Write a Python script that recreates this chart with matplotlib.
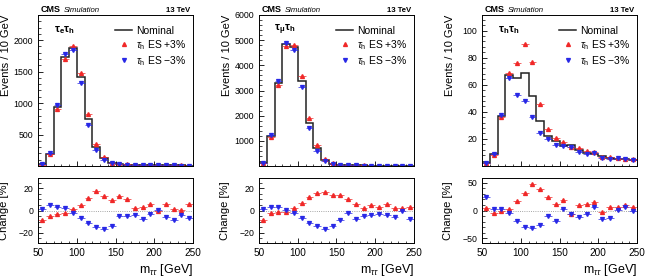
import numpy as np
import matplotlib.pyplot as plt
from matplotlib.ticker import MultipleLocator
from matplotlib.lines import Line2D

plt.rcParams["font.family"] = ["Liberation Sans", "DejaVu Sans"]
plt.rcParams["mathtext.fontset"] = "custom"
plt.rcParams["mathtext.rm"] = "Liberation Sans"
plt.rcParams["mathtext.it"] = "Liberation Sans:italic"
plt.rcParams["mathtext.bf"] = "Liberation Sans:bold"

# bins: 50-250 GeV, 10 GeV wide
edges = np.arange(50, 260, 10)
centers = edges[:-1] + 5

# --- tau_e tau_h ---
nom_et = [25, 197, 936, 1739, 1883, 1410, 740, 298, 122, 48,
          28, 22, 18, 15, 12, 12, 10, 9, 8, 7]
up_et = [-9, -5, -3, -2, 1, 5, 11, 18, 13.5, 9.5,
         13, 10.5, 2, 3, 6, 0, 5.5, 1.5, 0.5, 5.5]
dn_et = [1, 5, 3, 2, -2, -7, -11, -15, -17, -14,
         -5, -5, -4, -7.5, -3, 0.5, -6, -9, -4, -6.5]

# --- tau_mu tau_h ---
nom_mt = [110, 1180, 3280, 4853, 4720, 3360, 1693, 720, 253, 93,
          50, 35, 25, 20, 15, 12, 10, 8, 7, 6]
up_mt = [-9, -2, -1.5, -1.5, 2, 6.5, 12.5, 16, 16.5, 14.5,
         14.5, 10, 5.5, 2.5, 5, 3.5, 5.5, 2.5, 2.5, 3]
dn_mt = [1.5, 3.5, 3, 0.5, -2, -7, -11.5, -14.5, -16.5, -14,
         -8.5, -2.5, -8, -5, -4.5, -3.5, -4.5, -5.5, -0.5, -8]

# --- tau_h tau_h ---
nom_tt = [2, 8.5, 36.7, 67.4, 65, 68.6, 52, 33, 22, 18.5,
          14.6, 15.3, 12, 9.7, 9.2, 7.2, 6, 5.5, 4.8, 4.5]
up_tt = [4, -4, -1, 2, 17, 31, 48, 38.6, 23.6, 12,
         19, -6, 10, 12, 15, -3, 6, 6, 10, 7]
dn_tt = [24, 3, 3, -4, -19.5, -30, -31, -25.5, -10, -18,
         3, -6, -11, -7, 6, -14.7, -13, 1, 6, -1.5]

channels = [
    (r"$\mathbf{\tau_{e}\tau_{h}}$", nom_et, up_et, dn_et),
    (r"$\mathbf{\tau_{\mu}\tau_{h}}$", nom_mt, up_mt, dn_mt),
    (r"$\mathbf{\tau_{h}\tau_{h}}$", nom_tt, up_tt, dn_tt),
]
top_ylim = [2400, 6000, 111.5]
top_major = [500, 1000, 20]
top_minor = [100, 200, 4]
rat_ylim = [29.5, 29.5, 58.5]
rat_major = [20, 20, 50]
rat_minor = [5, 5, 10]

RED = "#f02828"
BLUE = "#2828e6"

fig = plt.figure(figsize=(6.48, 2.78), dpi=100)
lefts = [38 / 648, 259 / 648, 482 / 648]
w = 155 / 648


def style(ax):
    ax.tick_params(which="both", direction="in", labelsize=6.3, top=False, right=False)
    ax.tick_params(which="major", length=3.5, width=0.6)
    ax.tick_params(which="minor", length=1.8, width=0.5)
    for s in ax.spines.values():
        s.set_linewidth(0.7)
    ax.set_xlim(50, 250)
    ax.xaxis.set_major_locator(MultipleLocator(50))
    ax.xaxis.set_minor_locator(MultipleLocator(10))


for i, (lab, nom, up, dn) in enumerate(channels):
    nom = np.array(nom)
    up = np.array(up)
    dn = np.array(dn)
    ev_up = nom * (1 + up / 100)
    ev_dn = nom * (1 + dn / 100)

    ax = fig.add_axes([lefts[i], 1 - 166 / 278, w, 151 / 278])
    style(ax)
    ax.stairs(nom, edges, color="#222222", lw=1.1, baseline=None)
    ax.errorbar(centers, ev_up, xerr=5, fmt="^", color=RED, ms=2.8,
                elinewidth=0.5, capsize=0)
    ax.errorbar(centers, ev_dn, xerr=5, fmt="v", color=BLUE, ms=2.8,
                elinewidth=0.5, capsize=0)
    ax.set_ylim(0, top_ylim[i])
    ax.yaxis.set_major_locator(MultipleLocator(top_major[i]))
    ax.yaxis.set_minor_locator(MultipleLocator(top_minor[i]))
    ax.set_yticks([t for t in ax.get_yticks() if 0 < t <= top_ylim[i]])
    ax.tick_params(axis="x", labelbottom=False)
    ax.set_ylabel("Events / 10 GeV", fontsize=8, loc="top")
    ax.yaxis.set_label_coords(-0.175, 1)

    ax.text(0.02, 1.008, "CMS", transform=ax.transAxes, fontsize=6.5,
            fontweight="bold", va="bottom", ha="left")
    ax.text(0.165, 1.008, "Simulation", transform=ax.transAxes, fontsize=5.6,
            style="italic", va="bottom", ha="left")
    ax.text(0.98, 1.008, "13 TeV", transform=ax.transAxes, fontsize=5.6,
            fontweight="bold", va="bottom", ha="right")
    ax.text(0.1, 0.9, lab, transform=ax.transAxes, fontsize=8, va="center", ha="left")

    handles = [
        Line2D([], [], color="#222222", lw=1.1),
        Line2D([], [], color=RED, marker="^", ls="none", ms=2.8),
        Line2D([], [], color=BLUE, marker="v", ls="none", ms=2.8),
    ]
    ax.legend(handles, ["Nominal", r"$\tau_{\mathrm{h}}$ ES +3%", r"$\tau_{\mathrm{h}}$ ES $-$3%"],
              loc="upper right", bbox_to_anchor=(1.0, 0.97), frameon=False,
              fontsize=7.5, handlelength=1.6, handletextpad=0.4, labelspacing=0.2,
              borderaxespad=0.2)

    rx = fig.add_axes([lefts[i], 1 - 243 / 278, w, 65 / 278])
    style(rx)
    rx.axhline(0, color="#888888", lw=0.6, ls=":")
    rx.errorbar(centers, up, xerr=5, fmt="^", color=RED, ms=2.8,
                elinewidth=0.5, capsize=0)
    rx.errorbar(centers, dn, xerr=5, fmt="v", color=BLUE, ms=2.8,
                elinewidth=0.5, capsize=0)
    rx.set_ylim(-rat_ylim[i], rat_ylim[i])
    rx.yaxis.set_major_locator(MultipleLocator(rat_major[i]))
    rx.yaxis.set_minor_locator(MultipleLocator(rat_minor[i]))
    rx.tick_params(axis="x", labelsize=7.2)
    rx.set_ylabel("Change [%]", fontsize=8)
    rx.yaxis.set_label_coords(-0.19, 0.5)
    rx.set_xlabel(r"m$_{\tau\tau}$ [GeV]", fontsize=9, loc="right")
    rx.xaxis.labelpad = 3

fig.savefig("out.png", dpi=100)
